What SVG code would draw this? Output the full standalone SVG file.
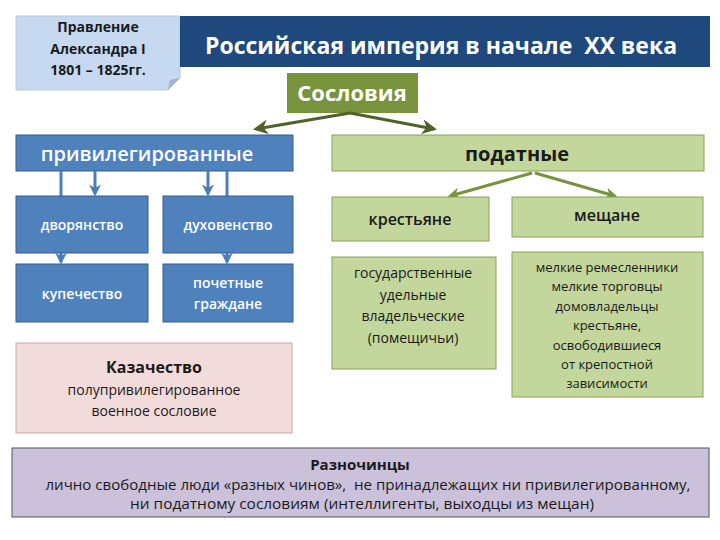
<svg xmlns="http://www.w3.org/2000/svg" width="720" height="540" viewBox="0 0 720 540">
<defs>
<marker id="ag" viewBox="0 0 10 10" refX="8" refY="5" markerWidth="5" markerHeight="5" orient="auto-start-reverse"><path d="M0,0 L10,5 L0,10 L3,5 z" fill="#4f6228"/></marker>
<marker id="ab" viewBox="0 0 10 10" refX="8" refY="5" markerWidth="4" markerHeight="4" orient="auto"><path d="M0,0 L10,5 L0,10 L3,5 z" fill="#4a7ebb"/></marker>
<marker id="ag2" viewBox="0 0 10 10" refX="8" refY="5" markerWidth="4" markerHeight="4" orient="auto"><path d="M0,0 L10,5 L0,10 L3,5 z" fill="#77933c"/></marker>
</defs>
<style>
text{font-family:"Open Sans","Liberation Sans",sans-serif;text-anchor:middle}
.pre{white-space:pre}
.blue rect{fill:#4f81bd;stroke:#385d8a;stroke-width:1}
.blue text{fill:#ffffff;font-size:14px;font-weight:600}
.green rect{fill:#c3d69b;stroke:#8aa05a;stroke-width:1}
.green text{fill:#1a1a1a;font-size:14px}
.bl{stroke:#4a7ebb;stroke-width:3;fill:none}
.gl{stroke:#77933c;stroke-width:3;fill:none}
</style>
<rect width="720" height="540" fill="#ffffff"/>

<g id="pravlenie">
<path d="M16,16 H180 V78 L168,90 H16 Z" fill="#c6d9f1" stroke="#b8c8dc" stroke-width="1"/>
<path d="M180,78 L168,90 L170,80 Z" fill="#a3b4c9"/>
<text x="98" y="32" font-size="14" fill="#1a1a1a" font-weight="bold">Правление</text>
<text x="98" y="54" font-size="14" fill="#1a1a1a" font-weight="bold">Александра I</text>
<text x="98" y="75" font-size="14" fill="#1a1a1a" font-weight="bold">1801 – 1825гг.</text>
</g>

<g id="title">
<rect x="180" y="16" width="530" height="51" fill="#1f497d"/>
<text class="pre" x="441" y="54" font-size="23" font-weight="bold" fill="#ffffff">Российская империя в начале  XX века</text>
</g>

<g id="soslovia">
<rect x="287" y="73" width="131" height="40" fill="#77933c"/>
<text x="352" y="101" font-size="22" font-weight="bold" fill="#ffffff">Сословия</text>
</g>

<g id="privileged" class="blue">
<rect x="16" y="135" width="277" height="36"/>
<text x="147" y="161" style="font-size:20px">привилегированные</text>
</g>

<g id="podatnye" class="green">
<rect x="332" y="135" width="372" height="36"/>
<text x="517" y="161" style="font-size:20px;font-weight:bold">податные</text>
</g>

<g id="connectors">
<path d="M350,113 L256,129" stroke="#4f6228" stroke-width="3" fill="none" marker-end="url(#ag)"/>
<path d="M350,113 L434,129" stroke="#4f6228" stroke-width="3" fill="none" marker-end="url(#ag)"/>
<path class="bl" d="M61,171 V262" marker-end="url(#ab)"/>
<path class="bl" d="M95,171 V194" marker-end="url(#ab)"/>
<path class="bl" d="M208,171 V194" marker-end="url(#ab)"/>
<path class="bl" d="M227,171 V262" marker-end="url(#ab)"/>
<path class="gl" d="M532,173 L450,196" marker-end="url(#ag2)"/>
<path class="gl" d="M535,173 L615,196" marker-end="url(#ag2)"/>
</g>

<g id="dvoryanstvo" class="blue">
<rect x="16" y="196" width="132" height="57"/>
<text x="82" y="230">дворянство</text>
</g>
<g id="duhovenstvo" class="blue">
<rect x="163" y="196" width="130" height="57"/>
<text x="228" y="230">духовенство</text>
</g>
<g id="kupechestvo" class="blue">
<rect x="16" y="264" width="132" height="58"/>
<text x="82" y="299">купечество</text>
</g>
<g id="pochetnye" class="blue">
<rect x="163" y="264" width="130" height="58"/>
<text x="228" y="288">почетные</text>
<text x="228" y="309">граждане</text>
</g>

<g id="krestyane" class="green">
<rect x="332" y="197" width="157" height="44"/>
<text x="410" y="225" style="font-size:16px;font-weight:600">крестьяне</text>
</g>
<g id="meshchane" class="green">
<rect x="512" y="197" width="191" height="40"/>
<text x="607" y="221" style="font-size:16px;font-weight:600">мещане</text>
</g>

<g id="krestyane-types" class="green">
<rect x="332" y="257" width="164" height="112"/>
<text x="413" y="278">государственные</text>
<text x="413" y="300">удельные</text>
<text x="413" y="321">владельческие</text>
<text x="413" y="343">(помещичьи)</text>
</g>

<g id="meshchane-types" class="green">
<rect x="512" y="252" width="191" height="145"/>
<text x="607" y="272" style="font-size:13px">мелкие ремесленники</text>
<text x="607" y="291" style="font-size:13px">мелкие торговцы</text>
<text x="607" y="311" style="font-size:13px">домовладельцы</text>
<text x="607" y="330" style="font-size:13px">крестьяне,</text>
<text x="607" y="350" style="font-size:13px">освободившиеся</text>
<text x="607" y="369" style="font-size:13px">от крепостной</text>
<text x="607" y="388" style="font-size:13px">зависимости</text>
</g>

<g id="kazachestvo">
<rect x="16" y="343" width="276" height="90" fill="#f2dcdb" stroke="#c9a9a8" stroke-width="1"/>
<text x="154" y="373" font-size="16" font-weight="bold" fill="#1a1a1a">Казачество</text>
<text x="154" y="395" font-size="14" fill="#1a1a1a">полупривилегированное</text>
<text x="154" y="416" font-size="14" fill="#1a1a1a">военное сословие</text>
</g>

<g id="raznochintsy">
<rect x="12" y="448" width="697" height="69" fill="#ccc1da" stroke="#555555" stroke-width="1"/>
<text x="360" y="470" font-size="15" font-weight="bold" fill="#1a1a1a">Разночинцы</text>
<text class="pre" x="368" y="490" font-size="14" fill="#1a1a1a" textLength="645" lengthAdjust="spacingAndGlyphs">лично свободные люди «разных чинов»,  не принадлежащих ни привилегированному,</text>
<text x="362" y="509" font-size="14" fill="#1a1a1a" textLength="464" lengthAdjust="spacingAndGlyphs">ни податному сословиям (интеллигенты, выходцы из мещан)</text>
</g>
</svg>
